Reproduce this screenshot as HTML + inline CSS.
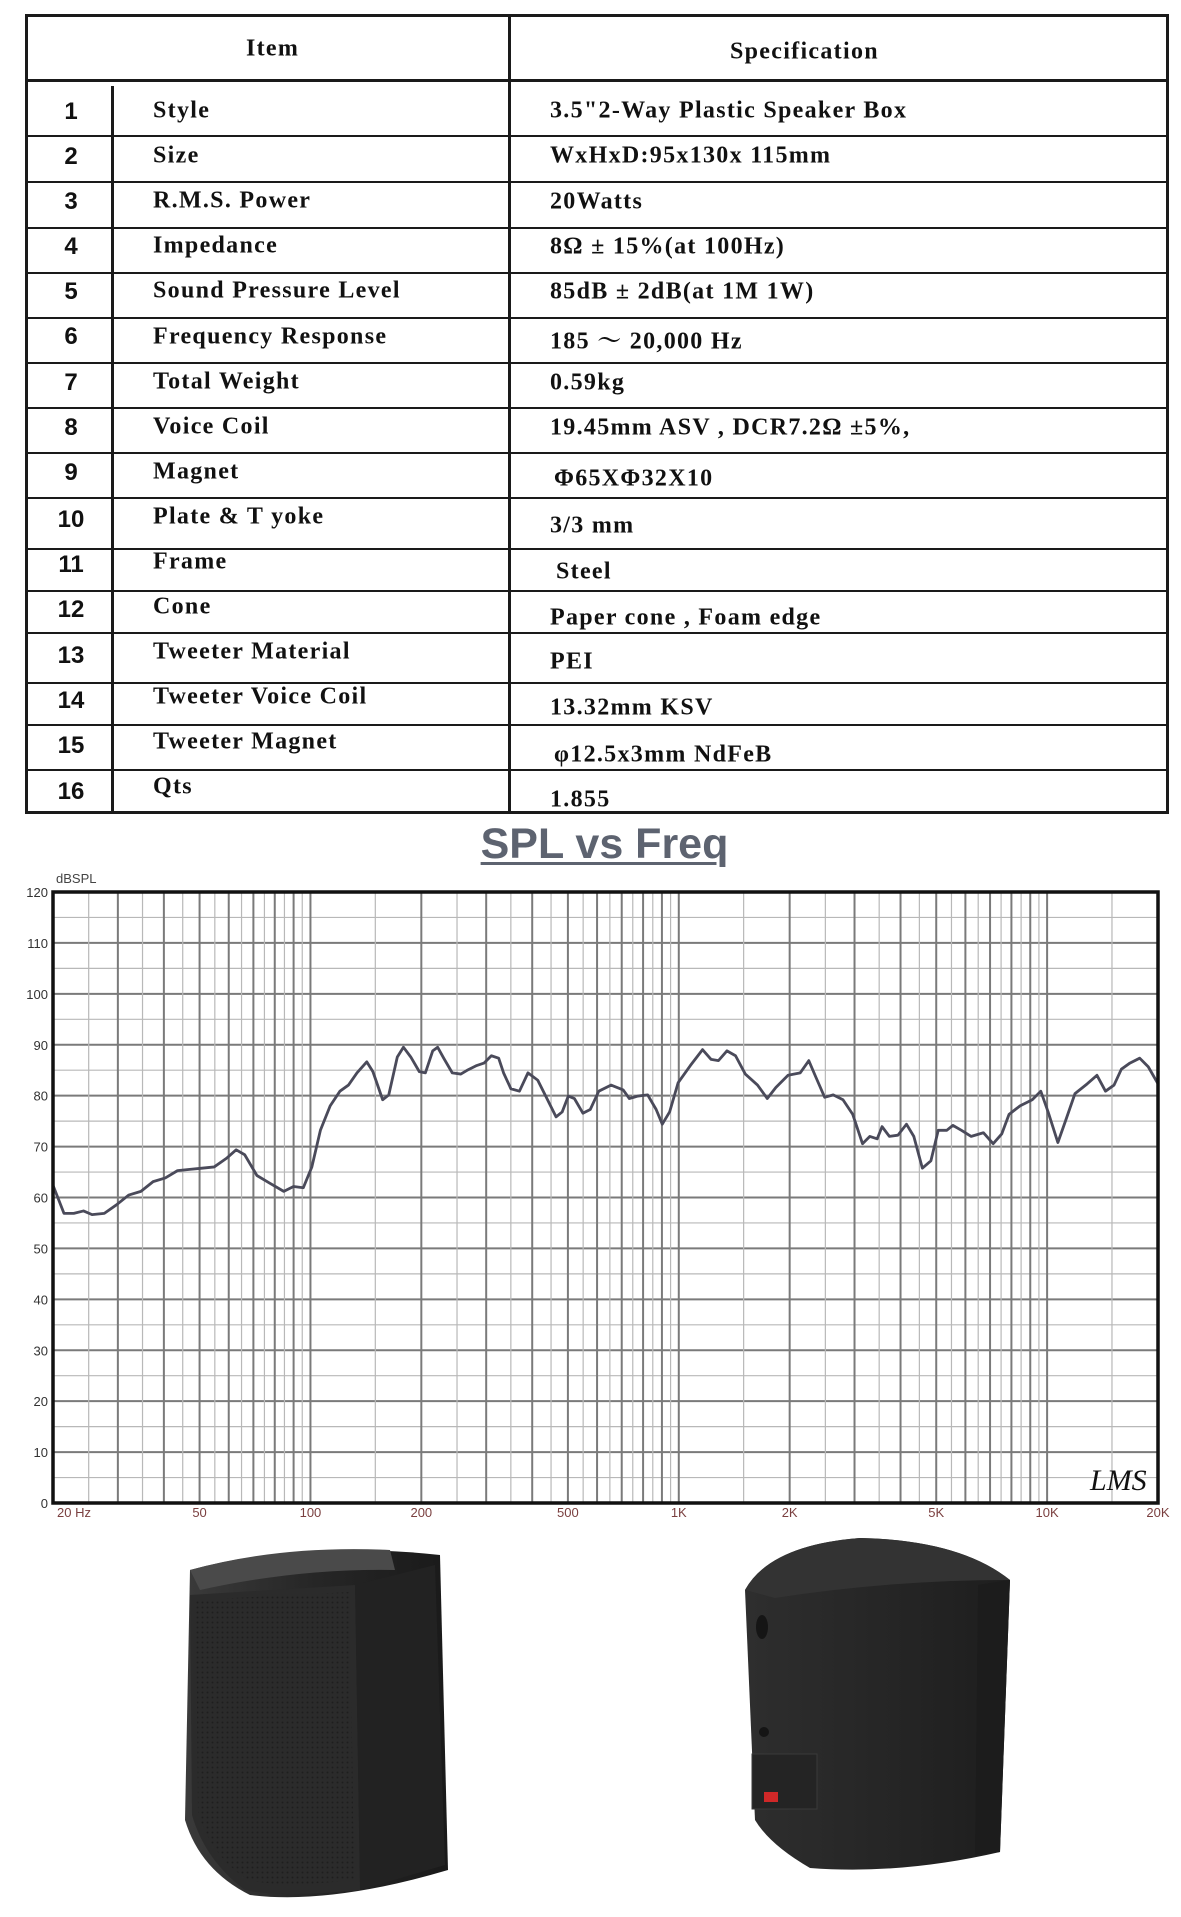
<!DOCTYPE html>
<html><head><meta charset="utf-8">
<style>
html,body{margin:0;padding:0;background:#fff;}
body{width:1181px;height:1917px;position:relative;overflow:hidden;font-family:"Liberation Serif",serif;}
.t{position:absolute;font-family:"Liberation Serif","Noto Serif CJK SC",serif;font-weight:bold;font-size:24px;letter-spacing:1.3px;color:#111;white-space:nowrap;transform:translateY(-50%);}
.n{position:absolute;font-family:"Liberation Sans",sans-serif;font-weight:bold;font-size:24px;color:#111;width:60px;text-align:center;transform:translateY(-50%);}
.line{position:absolute;background:#1a1a1a;}
</style></head><body>
<div class="line" style="left:25px;top:14px;width:1144px;height:3px"></div>
<div class="line" style="left:25px;top:79px;width:1144px;height:3px"></div>
<div class="line" style="left:25px;top:811px;width:1144px;height:3px"></div>
<div class="line" style="left:25px;top:14px;width:3px;height:800px"></div>
<div class="line" style="left:1166px;top:14px;width:3px;height:800px"></div>
<div class="line" style="left:508px;top:14px;width:3px;height:800px"></div>
<div class="line" style="left:111px;top:86px;width:3px;height:728px"></div>
<div id="rows"></div>
<div class="t" style="left:246px;top:49px">Item</div>
<div class="t" style="left:730px;top:52px">Specification</div>

<div id="txt"></div>

<div style="position:absolute;left:0;width:1209px;top:820px;text-align:center;font-family:'Liberation Sans',sans-serif;font-weight:bold;font-size:43px;color:#5d6370;text-decoration:underline;text-decoration-thickness:3px;text-underline-offset:4px;">SPL vs Freq</div>

<svg id="chart" width="1181" height="1917" style="position:absolute;left:0;top:0" xmlns="http://www.w3.org/2000/svg">
<defs>
<linearGradient id="g1" x1="0" x2="1"><stop offset="0" stop-color="#3a3a3a"/><stop offset="0.5" stop-color="#262626"/><stop offset="1" stop-color="#1a1a1a"/></linearGradient>
<linearGradient id="g2" x1="0" x2="1"><stop offset="0" stop-color="#2e2e2e"/><stop offset="1" stop-color="#1e1e1e"/></linearGradient>
<pattern id="dots" width="5" height="5" patternUnits="userSpaceOnUse"><circle cx="2.5" cy="2.5" r="1" fill="#151515"/></pattern>
</defs>
<g id="grid"></g>
<g transform="translate(53,892) scale(1.221,1.222) translate(-43,-730)">
<polyline fill="none" stroke="#4a4a5a" stroke-width="2.3" stroke-linejoin="round" points="43,970 52,993 60,993 68,991 75,994 85,993 95,986 105,978 115,975 125,967 135,964 145,958 155,957 165,956 175,955 185,948 193,941 200,945 210,962 220,968 232,975 240,971 248,972 255,955 262,925 270,905 278,893 285,888 292,878 300,869 305,877 313,900 318,896 325,865 330,857 336,865 343,877 348,878 354,860 358,857 363,866 370,878 377,879 382,876 390,872 396,870 402,864 408,866 412,878 418,891 425,893 432,878 440,884 447,898 455,914 460,910 465,897 470,899 477,911 483,908 490,893 500,888 510,892 515,899 522,897 530,896 537,908 542,920 548,910 555,886 565,872 575,859 582,867 588,868 595,860 602,864 610,879 620,888 628,899 635,890 645,880 655,878 662,868 668,882 675,898 682,896 690,900 698,912 706,936 712,930 718,932 722,922 728,930 735,929 742,920 748,930 755,956 762,950 768,925 775,925 780,921 787,925 795,930 805,927 813,936 820,928 826,912 835,905 845,900 852,893 858,910 866,935 872,918 880,895 890,887 898,880 905,893 912,888 918,875 925,870 933,866 940,873 948,887"/>
</g>
<rect x="53" y="892" width="1105" height="611" fill="none" stroke="#111" stroke-width="3.5"/>
<text x="56" y="883" font-family="Liberation Sans" font-size="13" fill="#444">dBSPL</text>
<text x="1090" y="1490" font-family="Liberation Serif" font-style="italic" font-size="30" fill="#111">LMS</text>
<g id="labels" font-family="Liberation Sans" font-size="13" fill="#333"></g>

<path d="M190,1570 Q300,1540 440,1555 L448,1870 Q330,1905 250,1895 Q200,1870 185,1820 Z" fill="url(#g1)"/>
<path d="M190,1570 Q280,1545 390,1550 L395,1570 Q300,1568 200,1590 Z" fill="#4a4a4a"/>
<path d="M355,1585 L435,1565 L445,1865 L360,1890 Z" fill="#222"/>
<path d="M190,1595 L355,1585 L360,1890 Q280,1898 245,1890 Q205,1860 192,1815 Z" fill="#2b2b2b"/>
<path d="M196,1600 L350,1592 L354,1880 Q280,1888 248,1880 Q210,1855 198,1812 Z" fill="url(#dots)" opacity="0.6"/>
<path d="M745,1590 Q770,1545 860,1538 Q960,1540 1010,1580 L1000,1852 Q900,1875 810,1868 Q770,1845 755,1820 Z" fill="url(#g2)"/>
<path d="M745,1590 Q770,1545 860,1538 Q960,1540 1010,1580 Q890,1580 775,1598 Z" fill="#333"/>
<path d="M978,1585 L1010,1580 L1000,1852 L975,1855 Z" fill="#1c1c1c"/>
<ellipse cx="762" cy="1627" rx="6" ry="12" fill="#151515"/>
<circle cx="764" cy="1732" r="5" fill="#151515"/>
<rect x="752" y="1754" width="65" height="55" fill="#242424" stroke="#3a3a3a"/>
<rect x="764" y="1792" width="14" height="10" fill="#d02828"/>
</svg>

<script>
const rl=[80,135,181,227,272,317,362,407,452,497,548,590,632,682,724,769];
let h='';
for(let i=1;i<rl.length;i++) h+=`<div class="line" style="left:25px;top:${rl[i]}px;width:1144px;height:2px"></div>`;
document.getElementById('rows').innerHTML=h;
const items=[["Style","3.5\"2-Way Plastic Speaker Box"],["Size","WxHxD:95x130x 115mm"],["R.M.S. Power","20Watts"],["Impedance","8Ω  ± 15%(at  100Hz)"],["Sound Pressure Level","85dB  ± 2dB(at  1M  1W)"],["Frequency Response","185 ～ 20,000 Hz"],["Total Weight","0.59kg"],["Voice Coil","19.45mm ASV , DCR7.2Ω ±5%,"],["Magnet","Φ65XΦ32X10"],["Plate & T yoke","3/3 mm"],["Frame","Steel"],["Cone","Paper  cone , Foam edge"],["Tweeter Material","PEI"],["Tweeter Voice Coil","13.32mm   KSV"],["Tweeter Magnet","φ12.5x3mm   NdFeB"],["Qts","1.855"]];
const ly=[91,128,165,202,239,277,314,351,388,425,462,499,536,573,610,647];
const sy=[91,128,166,203,240,278,315,352,394,432,470,508,544,582,620,657];
const ny=[92,129,166,203,240,277,315,352,389,427,464,501,539,576,613,651];
const sx=[550,550,550,550,550,550,550,550,554,550,556,550,550,550,554,550];
let t='';
items.forEach((it,i)=>{
 t+=`<div class="n" style="left:41px;top:${ny[i]*1.217}px">${i+1}</div>`;
 t+=`<div class="t" style="left:153px;top:${ly[i]*1.217}px">${it[0].replace(/&/g,'&amp;')}</div>`;
 t+=`<div class="t" style="left:${sx[i]}px;top:${sy[i]*1.217}px">${it[1]}</div>`;
});
document.getElementById('txt').innerHTML=t;
const X=f=>53+368.33*Math.log10(f/20);
let g='';
for(let d=0;d<=120;d+=5){const y=1503-d*611/120;g+=`<line x1="53" x2="1158" y1="${y}" y2="${y}" stroke="${d%10?'#b8b8b8':'#7a7a7a'}" stroke-width="${d%10?1.2:2}"/>`;}
let fr=[];
for(let v=20;v<=100;v+=5)fr.push([v,v%10==0]);
[100,1000,10000].forEach(dec=>{fr.push([1.5*dec,false]);if(dec<10000){for(let m=2;m<=10;m+=0.5)fr.push([m*dec,m%1==0]);}});
fr.forEach(([f,dk])=>{const x=X(f);g+=`<line x1="${x}" x2="${x}" y1="892" y2="1503" stroke="${dk?'#7a7a7a':'#b8b8b8'}" stroke-width="${dk?2:1.2}"/>`;});
document.getElementById('grid').innerHTML=g;
let L='';
for(let d=0;d<=120;d+=10){const y=1503-d*611/120;L+=`<text x="48" y="${y+5}" text-anchor="end">${d}</text>`;}
[[20,'20  Hz'],[50,'50'],[100,'100'],[200,'200'],[500,'500'],[1000,'1K'],[2000,'2K'],[5000,'5K'],[10000,'10K'],[20000,'20K']].forEach(([f,s])=>{
 const x=X(f);L+=`<text x="${f==20?x+4:x}" y="1517" text-anchor="${f==20?'start':'middle'}" fill="#7a3f3f">${s}</text>`;});
document.getElementById('labels').innerHTML=L;
</script>
</body></html>
